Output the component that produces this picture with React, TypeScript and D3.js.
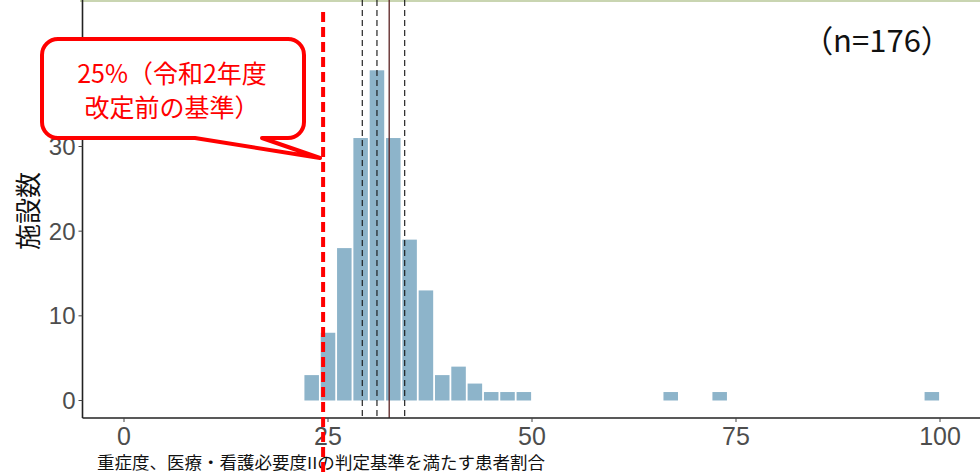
import React from "react";
import * as d3 from "d3";

const binStarts = [22, 24, 26, 28, 30, 32, 34, 36, 38, 40, 42, 44, 46, 48, 66, 72, 98];
const binCounts = [3, 8, 18, 31, 39, 31, 19, 13, 3, 4, 2, 1, 1, 1, 1, 1, 1];
const binWidth = 2;
const xTicks = [0, 25, 50, 75, 100];
const yTicks = [0, 10, 20, 30];
const dashedStats = [29.2, 31.0, 34.4];
const solidStat = 32.5;
const thresholdValue = 24.4;
const xTitle = "重症度、医療・看護必要度IIの判定基準を満たす患者割合";
const yTitle = "施設数";
const nLabel = "（n=176）";
const calloutLines = ["25%（令和2年度", "改定前の基準）"];

const W = 980;
const H = 476;

export default function App() {
  const x = d3.scaleLinear().domain([0, 100]).range([124, 940]);
  const y = d3.scaleLinear().domain([0, 30]).range([400.5, 146.5]);
  const axisX = 82.5;
  const axisY = 418;
  const bars = binStarts.map((b, i) => ({ b, c: binCounts[i] }));

  const x0 = 42, y0 = 39, x1 = 304, y1 = 138, r = 16;
  const tailA = 195, tailB = 262, tipX = 320, tipY = 158;
  const calloutPath = `M${x0 + r},${y0} H${x1 - r} A${r},${r} 0 0 1 ${x1},${y0 + r} V${y1 - r} A${r},${r} 0 0 1 ${x1 - r},${y1} H${tailB} L${tipX},${tipY} L${tailA},${y1} H${x0 + r} A${r},${r} 0 0 1 ${x0},${y1 - r} V${y0 + r} A${r},${r} 0 0 1 ${x0 + r},${y0} Z`;

  return (
    <svg width={W} height={H} style={{ position: "absolute", left: 0, top: 0, background: "#fff" }}>
      <rect x={0} y={0} width={W} height={H} fill="#fff" />
      <line x1={80} x2={W} y1={1} y2={1} stroke="#c9d5b1" strokeWidth={2} />
      {bars.map((d, i) => (
        <rect
          key={i}
          x={x(d.b) + 0.9}
          width={x(d.b + binWidth) - x(d.b) - 1.8}
          y={y(d.c)}
          height={y(0) - y(d.c)}
          fill="#8db4ca"
        />
      ))}
      {dashedStats.map((v, i) => (
        <line key={i} x1={x(v)} x2={x(v)} y1={0} y2={axisY} stroke="#111" strokeWidth={1.1} strokeDasharray="6,4" />
      ))}
      <line x1={x(solidStat)} x2={x(solidStat)} y1={0} y2={axisY} stroke="#5a2222" strokeWidth={1.3} />
      <line x1={axisX} x2={axisX} y1={0} y2={axisY} stroke="#222" strokeWidth={1.6} />
      <line x1={axisX} x2={W} y1={axisY} y2={axisY} stroke="#222" strokeWidth={1.6} />
      {yTicks.map((t) => (
        <g key={t}>
          <line x1={axisX - 4} x2={axisX} y1={y(t)} y2={y(t)} stroke="#444" strokeWidth={1} />
          <text x={axisX - 7} y={y(t)} dy="0.36em" textAnchor="end" fontFamily="Liberation Sans, Arial, sans-serif" fontSize={24} fill="#4d4d4d">{t}</text>
        </g>
      ))}
      {xTicks.map((t) => (
        <g key={t}>
          <line x1={x(t)} x2={x(t)} y1={axisY} y2={axisY + 4} stroke="#444" strokeWidth={1} />
          <text x={x(t)} y={445} textAnchor="middle" fontFamily="Liberation Sans, Arial, sans-serif" fontSize={25} fill="#4d4d4d">{t}</text>
        </g>
      ))}
      <text x={97} y={469} textLength={448} lengthAdjust="spacingAndGlyphs" fontFamily="Noto Sans CJK JP, sans-serif" fontSize={16.5} fill="#111">{xTitle}</text>
      <text transform={`translate(38,211) rotate(-90)`} textAnchor="middle" fontFamily="Noto Sans CJK JP, sans-serif" fontSize={26} fill="#111">{yTitle}</text>
      <text x={877} y={52} textAnchor="middle" fontFamily="Noto Sans CJK JP, sans-serif" fontSize={31} fill="#111">{nLabel}</text>
      <line x1={x(thresholdValue)} x2={x(thresholdValue)} y1={12} y2={H} stroke="#ff0000" strokeWidth={4} strokeDasharray="10,5" />
      <path d={calloutPath} fill="#fff" stroke="#ff0000" strokeWidth={4} strokeLinejoin="round" />
      {calloutLines.map((s, i) => (
        <text key={i} x={172} y={83 + i * 34} textAnchor="middle" fontFamily="Noto Sans CJK JP, sans-serif" fontSize={25} fill="#ff0000">{s}</text>
      ))}
    </svg>
  );
}
